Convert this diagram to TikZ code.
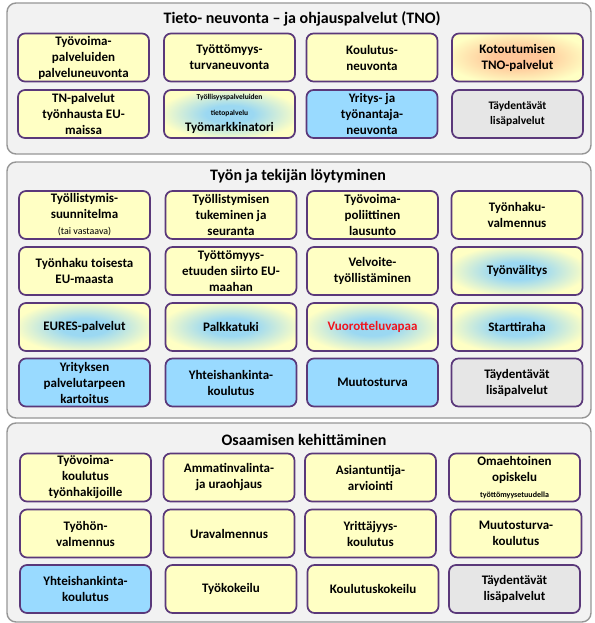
\documentclass[tikz,border=0pt]{standalone}
\usepackage{fontspec}
\setmainfont{Carlito}

\definecolor{reunaVari}{RGB}{90,56,122}
\definecolor{keltaVari}{RGB}{255,255,196}
\definecolor{siniVari}{RGB}{153,218,255}
\definecolor{harmaaVari}{RGB}{230,230,230}
\definecolor{paneeliVari}{RGB}{242,242,242}
\definecolor{paneeliReuna}{RGB}{150,150,150}
\definecolor{hehkuSini}{RGB}{155,216,242}
\definecolor{hehkuOranssi}{RGB}{255,198,152}
\definecolor{punainen}{RGB}{240,20,30}

\pgfdeclareradialshading{siniHehku}{\pgfpoint{0bp}{0bp}}%
  {color(0bp)=(hehkuSini); color(9bp)=(hehkuSini); color(27bp)=(keltaVari); color(50bp)=(keltaVari)}
\pgfdeclareradialshading{oranssiHehku}{\pgfpoint{0bp}{0bp}}%
  {color(0bp)=(hehkuOranssi); color(9bp)=(hehkuOranssi); color(28bp)=(keltaVari); color(50bp)=(keltaVari)}

\begin{document}
\begin{tikzpicture}[x=1pt, y=-1pt,
    paneeli/.style={draw=paneeliReuna, line width=1.4pt, fill=paneeliVari, rounded corners=9pt, minimum width=584pt},
    otsikko/.style={font=\fontsize{16}{18}\selectfont\bfseries},
    perus/.style={draw=reunaVari, line width=1.7pt, rounded corners=7pt, minimum width=131pt, minimum height=48pt,
                  inner sep=1pt, align=center, font=\fontsize{13}{16}\selectfont\bfseries},
    kelta/.style={perus, fill=keltaVari},
    sini/.style={perus, fill=siniVari},
    harmaa/.style={perus, fill=harmaaVari},
    hehku/.style={perus, shading=#1}
  ]
  \useasboundingbox (0,0) rectangle (594,623);

  % Tieto-, neuvonta- ja ohjauspalvelut
  \node[paneeli, minimum height=151pt] (tnoPaneeli) at (299,78.5) {};
  \node[otsikko] (tnoOtsikko) at (302,19) {Tieto- neuvonta – ja ohjauspalvelut (TNO)};
  \node[kelta] (tno1) at (83.5,57.5) {Työvoima-\\palveluiden\\palveluneuvonta};
  \node[kelta] (tno2) at (229.5,57.5) {Työttömyys-\\turvaneuvonta};
  \node[kelta] (tno3) at (372,57.5) {Koulutus-\\neuvonta};
  \node[hehku=oranssiHehku] (tno4) at (517.5,57.5) {Kotoutumisen\\TNO-palvelut};
  \node[kelta] (tno5) at (83.5,114) {TN-palvelut\\työnhausta EU-\\maissa};
  \node[hehku=siniHehku] (tno6) at (229.5,114)
    {\fontsize{7.5}{13}\selectfont Työllisyyspalveluiden\\\fontsize{7.5}{13}\selectfont tietopalvelu\\Työmarkkinatori};
  \node[sini] (tno7) at (372,114) {Yritys- ja\\työnantaja-\\neuvonta};
  \node[harmaa, font=\fontsize{11.5}{15}\selectfont\bfseries] (tno8) at (517.5,114) {Täydentävät\\lisäpalvelut};

  % Työn ja tekijän löytyminen
  \node[paneeli, minimum height=256pt] (tyoPaneeli) at (299,290) {};
  \node[otsikko] (tyoOtsikko) at (298,176) {Työn ja tekijän löytyminen};
  \node[kelta] (tyo1) at (84.5,215)
    {Työllistymis-\\suunnitelma\\{\fontsize{10}{16}\selectfont\mdseries (tai vastaava)}};
  \node[kelta] (tyo2) at (231,215) {Työllistymisen\\tukeminen ja\\seuranta};
  \node[kelta] (tyo3) at (372.5,215) {Työvoima-\\poliittinen\\lausunto};
  \node[kelta] (tyo4) at (517,215) {Työnhaku-\\valmennus};
  \node[kelta] (tyo5) at (84.5,271) {Työnhaku toisesta\\EU-maasta};
  \node[kelta] (tyo6) at (231,271) {Työttömyys-\\etuuden siirto EU-\\maahan};
  \node[kelta] (tyo7) at (372.5,271) {Velvoite-\\työllistäminen};
  \node[hehku=siniHehku] (tyo8) at (517,271) {Työnvälitys};
  \node[hehku=siniHehku] (tyo9) at (84.5,327) {EURES-palvelut};
  \node[hehku=siniHehku] (tyo10) at (231,327) {Palkkatuki};
  \node[hehku=siniHehku, text=punainen] (tyo11) at (372.5,327) {Vuorotteluvapaa};
  \node[hehku=siniHehku] (tyo12) at (517,327) {Starttiraha};
  \node[sini] (tyo13) at (84.5,382.5) {Yrityksen\\palvelutarpeen\\kartoitus};
  \node[sini] (tyo14) at (231,382.5) {Yhteishankinta-\\koulutus};
  \node[sini] (tyo15) at (372.5,382.5) {Muutosturva};
  \node[harmaa] (tyo16) at (517,382.5) {Täydentävät\\lisäpalvelut};

  % Osaamisen kehittäminen
  \node[paneeli, minimum height=199pt] (osaPaneeli) at (299,522.5) {};
  \node[otsikko] (osaOtsikko) at (304,440) {Osaamisen kehittäminen};
  \node[kelta] (osa1) at (85.5,477.5) {Työvoima-\\koulutus\\työnhakijoille};
  \node[kelta] (osa2) at (229,477.5) {Ammatinvalinta-\\ja uraohjaus};
  \node[kelta] (osa3) at (370.5,477.5) {Asiantuntija-\\arviointi};
  \node[kelta] (osa4) at (514.5,477.5)
    {Omaehtoinen\\opiskelu\\{\fontsize{8}{12}\selectfont työttömyysetuudella}};
  \node[kelta] (osa5) at (85.5,533.5) {Työhön-\\valmennus};
  \node[kelta] (osa6) at (229,533.5) {Uravalmennus};
  \node[kelta] (osa7) at (370.5,533.5) {Yrittäjyys-\\koulutus};
  \node[kelta] (osa8) at (516,533.5) {Muutosturva-\\koulutus};
  \node[sini] (osa9) at (85.5,589) {Yhteishankinta-\\koulutus};
  \node[kelta] (osa10) at (231,589) {Työkokeilu};
  \node[kelta] (osa11) at (373,589) {Koulutuskokeilu};
  \node[harmaa] (osa12) at (514.5,589) {Täydentävät\\lisäpalvelut};
\end{tikzpicture}
\end{document}
